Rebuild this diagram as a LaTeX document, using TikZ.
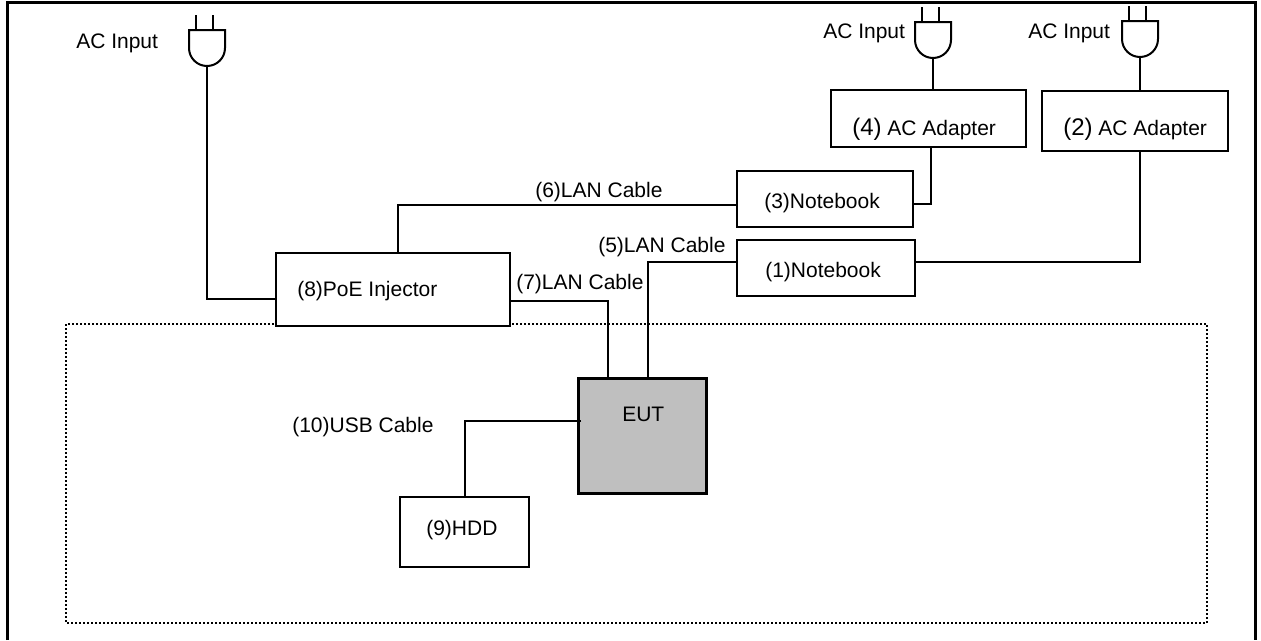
\documentclass[tikz,border=0pt]{standalone}
\usepackage{fontspec}
\setmainfont{Liberation Sans}
\definecolor{eutgray}{HTML}{BFBFBF}
\tikzset{
	wire/.style={line width=1.5pt},
	box/.style={draw, line width=1.5pt, fill=white, inner sep=0pt, outer sep=0pt},
	lbl/.style={anchor=base west, inner sep=0pt, font=\fontsize{15.75}{18}\selectfont},
}
\begin{document}
\begin{tikzpicture}[x=0.75pt, y=-0.75pt]
	\useasboundingbox (0,0) rectangle (1261,640);
	% outer frame, open at the bottom
	\draw [line width=2.25pt] (7.5,640) -- (7.5,2.5) -- (1255.5,2.5) -- (1255.5,640);
	% test area
	\draw [line width=1.5pt, dash pattern=on 1.5pt off 1.5pt] (66,324) rectangle (1207,623);

	% plugs
	\foreach \name/\x/\y in {plugA/207/30, plugB/933/22, plugC/1140/21} {
		\draw [wire] (\x-11,\y-15) -- (\x-11,\y);
		\draw [wire] (\x+6,\y-15) -- (\x+6,\y);
		\draw [wire] (\x-18,\y) -- (\x+18,\y) -- (\x+18,\y+18)
			arc [start angle=0, end angle=180, radius=18] -- cycle;
		\coordinate (\name) at (\x,\y+36);
	}

	% boxes
	\node [box, minimum width=195*0.75pt, minimum height=57*0.75pt] (adapterD) at (928.5,118.5) {};
	\node [box, minimum width=186*0.75pt, minimum height=60*0.75pt] (adapterB) at (1135,121) {};
	\node [box, minimum width=176*0.75pt, minimum height=56*0.75pt] (notebookC) at (825,199) {};
	\node [box, minimum width=178*0.75pt, minimum height=56*0.75pt] (notebookA) at (826,268) {};
	\node [box, minimum width=234*0.75pt, minimum height=73*0.75pt] (injector) at (393,289.5) {};
	\node [box, minimum width=129*0.75pt, minimum height=70*0.75pt] (hdd) at (464.5,532) {};
	\node [box, line width=2.25pt, fill=eutgray, minimum width=128*0.75pt, minimum height=115*0.75pt] (eut) at (642,435.5) {};

	% cables
	\draw [wire] (plugA) |- (injector.west |- 0,299);
	\draw [wire] (plugB) -- (adapterD.north -| plugB);
	\draw [wire] (plugC) -- (adapterB.north -| plugC);
	\draw [wire] (adapterD.south -| 931,0) |- (notebookC.east |- 0,204);
	\draw [wire] (adapterB.south -| 1140,0) |- (notebookA.east |- 0,262);
	\draw [wire] (notebookC.west |- 0,205) -| (398,0 |- injector.north);
	\draw [wire] (notebookA.west |- 0,262) -| (648,0 |- eut.north);
	\draw [wire] (injector.east |- 0,301) -| (608,0 |- eut.north);
	\draw [wire] ([xshift=2.25pt]eut.west |- 0,421) -| (465,0 |- hdd.north);

	% labels
	\node [lbl] (inputA) at (76,48) {AC Input};
	\node [lbl] (inputB) at (823,38) {AC Input};
	\node [lbl] (inputC) at (1028,38) {AC Input};
	\node [lbl] (adapterDtext) at (852,135) {{\fontsize{18}{18}\selectfont (4)} AC Adapter};
	\node [lbl] (adapterBtext) at (1063,135) {{\fontsize{18}{18}\selectfont (2)} AC Adapter};
	\node [lbl] (notebookCtext) at (764,208) {(3)Notebook};
	\node [lbl] (notebookAtext) at (765,277) {(1)Notebook};
	\node [lbl] (cableF) at (535,197) {(6)LAN Cable};
	\node [lbl] (cableE) at (598,252) {(5)LAN Cable};
	\node [lbl] (cableG) at (516,289) {(7)LAN Cable};
	\node [lbl] (injectortext) at (297,296) {(8)PoE Injector};
	\node [lbl] (cableJ) at (292,432) {(10)USB Cable};
	\node [lbl] (hddtext) at (426,535) {(9)HDD};
	\node [lbl] (euttext) at (622,421) {EUT};
\end{tikzpicture}
\end{document}
